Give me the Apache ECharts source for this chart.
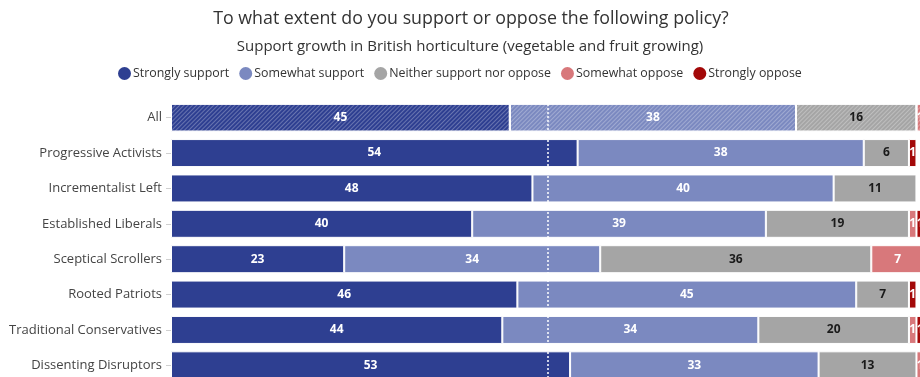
<!DOCTYPE html>
<html>
<head>
<meta charset="utf-8">
<script src="https://cdn.jsdelivr.net/npm/echarts@6/dist/echarts.min.js"></script>
<style>
  html, body { margin: 0; padding: 0; background: #fff; overflow: hidden; }
  #chart { width: 920px; height: 377px; }
</style>
</head>
<body>
<div id="chart"></div>
<script>
// Segments of the population, top to bottom
const categories = [
  'All',
  'Progressive Activists',
  'Incrementalist Left',
  'Established Liberals',
  'Sceptical Scrollers',
  'Rooted Patriots',
  'Traditional Conservatives',
  'Dissenting Disruptors'
];

// Share of each segment giving each answer (%)
const stronglySupport = [45, 54, 48, 40, 23, 46, 44, 53];
const somewhatSupport = [38, 38, 40, 39, 34, 45, 34, 33];
const neither         = [16, 6, 11, 19, 36, 7, 20, 13];
const somewhatOppose  = [1, 0, 0, 1, 7, 0, 1, 1];
const stronglyOppose  = [0, 1, 0, 1, 0, 1, 1, 0];

const seriesNames = [
  'Strongly support',
  'Somewhat support',
  'Neither support nor oppose',
  'Somewhat oppose',
  'Strongly oppose'
];
const seriesValues = [stronglySupport, somewhatSupport, neither, somewhatOppose, stronglyOppose];
const colors = ['#2e3f91', '#7b89c0', '#a5a5a5', '#d8787b', '#a30808'];
const labelColors = ['#ffffff', '#ffffff', '#1a1a1a', '#ffffff', '#ffffff'];

const FONT = '"Open Sans", "Noto Sans", sans-serif';

// The overall row is hatched to set it apart from the segments
const hatch = {
  symbol: 'rect',
  symbolSize: 1,
  dashArrayX: [1, 0],
  dashArrayY: [1, 2],
  rotation: -Math.PI / 4,
  color: 'rgba(255,255,255,0.28)'
};

const series = seriesNames.map((name, i) => ({
  name: name,
  type: 'bar',
  stack: 'total',
  barWidth: 28,
  itemStyle: { color: colors[i], borderColor: '#ffffff', borderWidth: 1 },
  label: {
    show: true,
    position: 'inside',
    color: labelColors[i],
    fontFamily: FONT,
    fontWeight: 'bold',
    fontSize: 12,
    formatter: p => (p.value >= 1 ? String(p.value) : '')
  },
  emphasis: { disabled: true },
  data: seriesValues[i].map((v, r) => (r === 0 ? { value: v, itemStyle: { decal: hatch } } : v))
}));

// Dotted marker at the halfway point
series[series.length - 1].markLine = {
  silent: true,
  symbol: 'none',
  label: { show: false },
  lineStyle: { color: '#ffffff', type: [2, 2], width: 1.5 },
  data: [{ xAxis: 50 }]
};

const chart = echarts.init(document.getElementById('chart'), null, { renderer: 'canvas' });
chart.setOption({
  animation: false,
  color: colors,
  title: [
    {
      text: 'To what extent do you support or oppose the following policy?',
      left: 466,
      textAlign: 'center',
      top: 5,
      textStyle: { fontFamily: FONT, fontSize: 17.8, fontWeight: 'normal', color: '#333333' }
    },
    {
      text: 'Support growth in British horticulture (vegetable and fruit growing)',
      left: 465,
      textAlign: 'center',
      top: 34,
      textStyle: { fontFamily: FONT, fontSize: 15, fontWeight: 'normal', color: '#333333' }
    }
  ],
  legend: {
    top: 62,
    left: 113,
    icon: 'circle',
    itemWidth: 13,
    itemHeight: 13,
    itemGap: 10,
    itemStyle: { borderWidth: 0 },
    textStyle: { fontFamily: FONT, fontSize: 12.4, color: '#333333', padding: [0, 0, 0, -3] },
    data: seriesNames
  },
  grid: { left: 171, right: -4, top: 100, bottom: -6, outerBoundsMode: 'none', containLabel: false },
  xAxis: {
    type: 'value',
    min: 0,
    max: 100,
    show: false
  },
  yAxis: {
    type: 'category',
    inverse: true,
    data: categories,
    axisLine: { show: false },
    axisTick: { show: true, length: 5, alignWithLabel: true, lineStyle: { color: '#d0d0d0' } },
    axisLabel: { fontFamily: FONT, fontSize: 13, color: '#444444', margin: 9 }
  },
  series: series
});
</script>
</body>
</html>
